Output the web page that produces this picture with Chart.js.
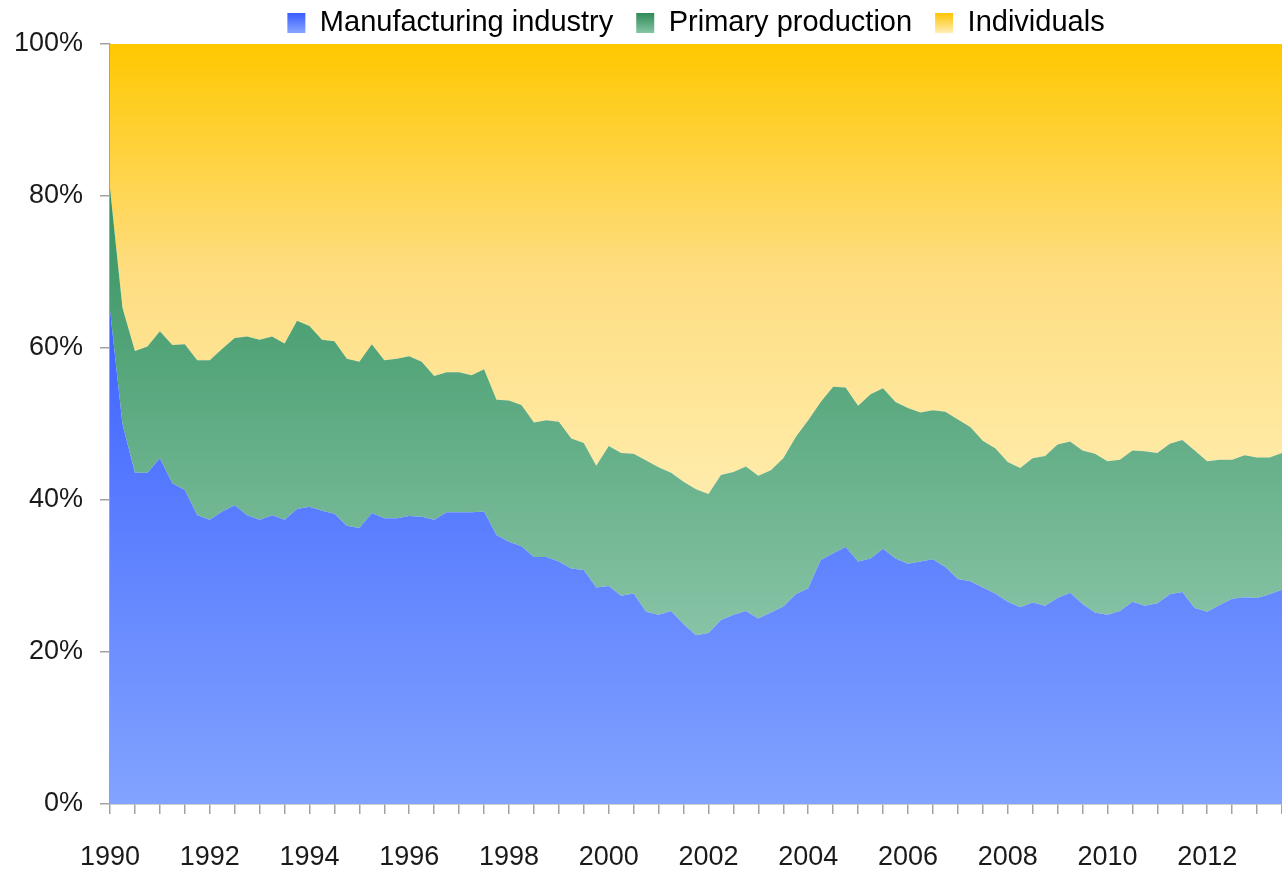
<!DOCTYPE html>
<html>
<head>
<meta charset="utf-8">
<style>
  html, body { margin: 0; padding: 0; background: #fff; }
  #wrap { width: 1282px; height: 870px; position: relative; }
</style>
<script src="https://cdn.jsdelivr.net/npm/chart.js@4.4.1/dist/chart.umd.min.js"></script>
</head>
<body>
<div id="wrap"><canvas id="chart"></canvas></div>
<script>
// quarterly shares (%), 1990 Q1 .. 2013 Q3
var seriesNames = ['Manufacturing industry', 'Primary production', 'Individuals'];
var yearLabels = ['1990', '1992', '1994', '1996', '1998', '2000', '2002', '2004', '2006', '2008', '2010', '2012'];

var manufacturing = [
  65.0, 50.0, 43.6, 43.6, 45.5, 42.2, 41.3, 38.0, 37.4, 38.5,
  39.3, 38.0, 37.4, 38.0, 37.4, 38.8, 39.1, 38.6, 38.2, 36.6,
  36.3, 38.3, 37.6, 37.6, 37.9, 37.8, 37.4, 38.4, 38.4, 38.4,
  38.5, 35.4, 34.5, 33.9, 32.5, 32.5, 31.9, 31.0, 30.8, 28.5,
  28.7, 27.4, 27.7, 25.3, 24.9, 25.4, 23.7, 22.2, 22.5, 24.2,
  24.9, 25.4, 24.4, 25.2, 26.0, 27.6, 28.4, 32.1, 33.0, 33.8,
  31.9, 32.3, 33.6, 32.3, 31.6, 31.9, 32.2, 31.2, 29.6, 29.3,
  28.5, 27.7, 26.6, 25.9, 26.5, 26.1, 27.1, 27.8, 26.3, 25.2,
  24.9, 25.4, 26.6, 26.1, 26.4, 27.6, 27.9, 25.8, 25.3, 26.2,
  27.0, 27.2, 27.1, 27.6, 28.2
];
var primary = [
  16.0, 15.3, 16.0, 16.6, 16.7, 18.2, 19.2, 20.4, 21.0, 21.4,
  22.0, 23.5, 23.7, 23.5, 23.2, 24.8, 23.8, 22.5, 22.7, 22.0,
  21.9, 22.2, 20.8, 21.0, 21.0, 20.4, 18.9, 18.4, 18.4, 18.0,
  18.7, 17.8, 18.6, 18.6, 17.7, 18.0, 18.4, 17.1, 16.7, 16.0,
  18.4, 18.8, 18.4, 19.9, 19.4, 18.2, 18.7, 19.2, 18.3, 19.1,
  18.8, 19.0, 18.8, 18.7, 19.5, 20.7, 22.1, 20.8, 21.9, 21.0,
  20.5, 21.6, 21.1, 20.6, 20.5, 19.6, 19.6, 20.4, 21.0, 20.3,
  19.3, 19.1, 18.4, 18.3, 19.0, 19.7, 20.2, 19.9, 20.2, 20.9,
  20.2, 19.9, 19.9, 20.3, 19.8, 19.8, 20.0, 20.7, 19.8, 19.1,
  18.3, 18.7, 18.5, 18.0, 18.0
];
var individuals = [
  19.0, 34.7, 40.4, 39.8, 37.8, 39.6, 39.5, 41.6, 41.6, 40.1,
  38.7, 38.5, 38.9, 38.5, 39.4, 36.4, 37.1, 38.9, 39.1, 41.4,
  41.8, 39.5, 41.6, 41.4, 41.1, 41.8, 43.7, 43.2, 43.2, 43.6,
  42.8, 46.8, 46.9, 47.5, 49.8, 49.5, 49.7, 51.9, 52.5, 55.5,
  52.9, 53.8, 53.9, 54.8, 55.7, 56.4, 57.6, 58.6, 59.2, 56.7,
  56.3, 55.6, 56.8, 56.1, 54.5, 51.7, 49.5, 47.1, 45.1, 45.2,
  47.6, 46.1, 45.3, 47.1, 47.9, 48.5, 48.2, 48.4, 49.4, 50.4,
  52.2, 53.2, 55.0, 55.8, 54.5, 54.2, 52.7, 52.3, 53.5, 53.9,
  54.9, 54.7, 53.5, 53.6, 53.8, 52.6, 52.1, 53.5, 54.9, 54.7,
  54.7, 54.1, 54.4, 54.4, 53.8
];

var quarters = [];
for (var i = 0; i < manufacturing.length; i++) {
  quarters.push((1990 + Math.floor(i / 4)) + ' Q' + (i % 4 + 1));
}

// bounding values of each band, used to stretch the gradients like Excel does
var upperPrimary = manufacturing.map(function (v, i) { return v + primary[i]; });
var bands = [
  [Math.max.apply(null, manufacturing), 0],
  [Math.max.apply(null, upperPrimary), Math.min.apply(null, manufacturing)],
  [100, Math.min.apply(null, upperPrimary)]
];
var gradStops = [
  [[0, '#3d62ff'], [1, '#82a3ff']],
  [[0, '#35925f'], [1, '#87c4a6']],
  [[0, '#ffc800'], [0.5, '#fedd80'], [1, '#ffecab']]
];
var legendStops = [
  [[0, '#3a5cff'], [1, '#86a5ff']],
  [[0, '#2e8b57'], [1, '#86c4a4']],
  [[0, '#ffc400'], [1, '#ffeeb5']]
];

function bandFill(idx) {
  return function (context) {
    var chart = context.chart;
    if (!chart.chartArea) return gradStops[idx][0][1];
    var y = chart.scales.y;
    var g = chart.ctx.createLinearGradient(0, y.getPixelForValue(bands[idx][0]), 0, y.getPixelForValue(bands[idx][1]));
    gradStops[idx].forEach(function (s) { g.addColorStop(s[0], s[1]); });
    return g;
  };
}

var axisGrey = '#a3a3a3';
var textColor = '#1a1a1a';
var fontFamily = "'Liberation Sans', Arial, sans-serif";

var ctx = document.getElementById('chart').getContext('2d');
var myChart = new Chart(ctx, {
  type: 'line',
  data: {
    labels: quarters,
    datasets: [{
      label: seriesNames[0],
      data: manufacturing,
      backgroundColor: bandFill(0),
      fill: 'origin'
    }, {
      label: seriesNames[1],
      data: primary,
      backgroundColor: bandFill(1),
      fill: '-1'
    }, {
      label: seriesNames[2],
      data: individuals,
      backgroundColor: bandFill(2),
      fill: '-1'
    }]
  },
  options: {
    responsive: true,
    maintainAspectRatio: false,
    animation: false,
    elements: {
      line: { borderWidth: 0, tension: 0 },
      point: { radius: 0, hoverRadius: 0 }
    },
    layout: { padding: { top: -14.5, left: 0, right: 0, bottom: 0 } },
    plugins: {
      tooltip: { enabled: false },
      legend: {
        position: 'top',
        fullSize: false,
        maxHeight: 58.5,
        labels: {
          color: '#000',
          font: { family: fontFamily, size: 29, lineHeight: 1 },
          boxWidth: 18,
          boxHeight: 20,
          padding: 23,
          generateLabels: function (chart) {
            var items = Chart.defaults.plugins.legend.labels.generateLabels(chart);
            items.forEach(function (it, i) {
              var g = chart.ctx.createLinearGradient(0, 13, 0, 33);
              legendStops[i].forEach(function (s) { g.addColorStop(s[0], s[1]); });
              it.fillStyle = g;
              it.lineWidth = 0;
              it.strokeStyle = 'rgba(0,0,0,0)';
            });
            return items;
          }
        }
      }
    },
    scales: {
      x: {
        offset: false,
        grid: {
          drawOnChartArea: false,
          tickLength: 10,
          lineWidth: 1.5,
          color: function (c) { return c.index % 2 === 0 ? axisGrey : 'rgba(0,0,0,0)'; }
        },
        border: { display: true, color: axisGrey, width: 1.5 },
        ticks: {
          autoSkip: false,
          maxRotation: 0,
          padding: 27,
          color: textColor,
          font: { family: fontFamily, size: 27 },
          callback: function (value, index) {
            return index % 8 === 0 ? yearLabels[index / 8] : '';
          }
        },
        afterFit: function (scale) {
          scale.height = 66;
          scale.paddingLeft = 0;
          scale.paddingRight = 0;
        }
      },
      y: {
        stacked: true,
        min: 0,
        max: 100,
        grid: { drawOnChartArea: false, tickLength: 10, lineWidth: 1.5, color: axisGrey },
        border: { display: true, color: axisGrey, width: 1.5 },
        ticks: {
          stepSize: 20,
          padding: 17,
          color: textColor,
          font: { family: fontFamily, size: 27 },
          callback: function (v) { return v + '%'; }
        },
        afterFit: function (scale) { scale.width = 110; }
      }
    }
  }
});
</script>
</body>
</html>
